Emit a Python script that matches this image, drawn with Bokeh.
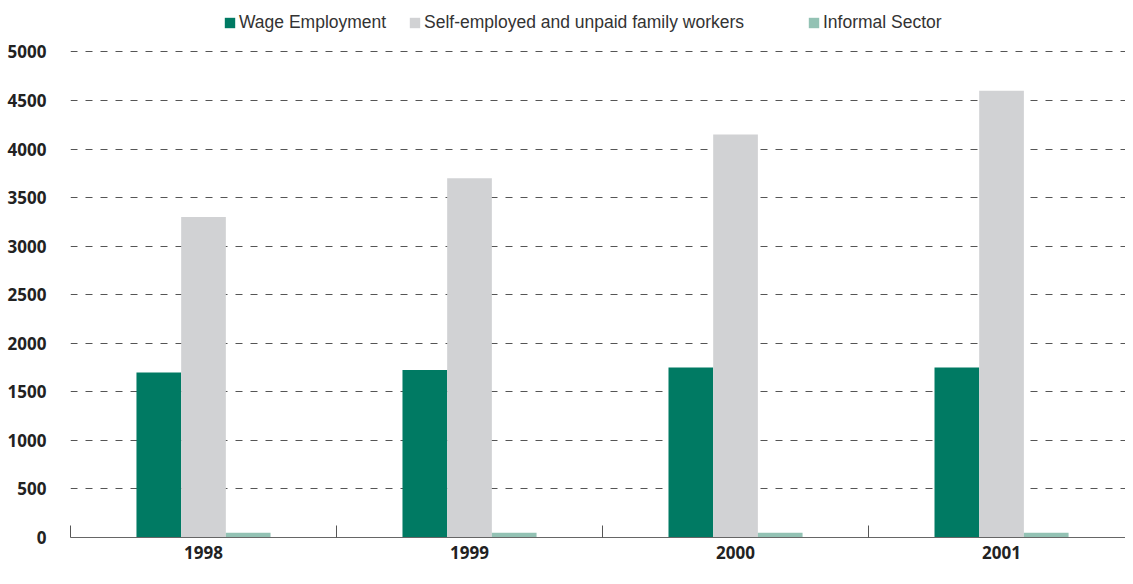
from bokeh.plotting import figure
from bokeh.models import (ColumnDataSource, Range1d, FixedTicker, Legend, LegendItem)
from bokeh.embed import file_html
from bokeh.resources import INLINE

years = ["1998", "1999", "2000", "2001"]
wage = [1700, 1725, 1750, 1750]
self_emp = [3300, 3700, 4150, 4600]
informal = [50, 50, 50, 50]

series_names = ["Wage Employment", "Self-employed and unpaid family workers", "Informal Sector"]
colors = ["#007A63", "#D1D2D4", "#93C2B4"]

centers = [i + 0.5 for i in range(len(years))]
bw = 0.168
offsets = [-bw, 0.0, bw]

p = figure(width=1125, height=568, output_backend="svg", toolbar_location=None,
           x_range=Range1d(0, 3.966), y_range=Range1d(0, 5427),
           min_border_left=70, min_border_right=0, min_border_top=10, min_border_bottom=31)
p.outline_line_color = None
p.background_fill_color = "white"
p.border_fill_color = "white"

renderers = []
for vals, off, col in zip([wage, self_emp, informal], offsets, colors):
    src = ColumnDataSource(dict(x=[c + off for c in centers], top=vals))
    r = p.vbar(x="x", top="top", width=bw, bottom=0, source=src,
               fill_color=col, line_color=None)
    renderers.append(r)

# y axis
p.yaxis.ticker = FixedTicker(ticks=list(range(0, 5001, 500)))
p.yaxis.axis_line_color = None
p.yaxis.major_tick_line_color = None
p.yaxis.minor_tick_line_color = None
p.yaxis.major_label_standoff = 18
p.yaxis.major_label_text_font = "Noto Sans"
p.yaxis.major_label_text_font_style = "bold"
p.yaxis.major_label_text_font_size = "17px"
p.yaxis.major_label_text_color = "#222222"

# x axis
p.xaxis.ticker = FixedTicker(ticks=centers, minor_ticks=list(range(0, len(years) + 1)))
p.xaxis.major_label_overrides = {c: y for c, y in zip(centers, years)}
p.xaxis.major_tick_line_color = None
p.xaxis.major_tick_in = 0
p.xaxis.major_tick_out = 0
p.xaxis.minor_tick_in = 12
p.xaxis.minor_tick_out = 0
p.xaxis.minor_tick_line_color = "#555555"
p.xaxis.axis_line_color = "#666666"
p.xaxis.major_label_standoff = 8
p.xaxis.major_label_text_font = "Noto Sans"
p.xaxis.major_label_text_font_style = "bold"
p.xaxis.major_label_text_font_size = "17px"
p.xaxis.major_label_text_color = "#222222"

p.xgrid.grid_line_color = None
p.ygrid.grid_line_color = "#555555"
p.ygrid.grid_line_dash = "7 8"
p.ygrid.grid_line_width = 1

legend_x = [153, 338, 737]
for name, r, lx in zip(series_names, renderers, legend_x):
    lg = Legend(items=[LegendItem(label=name, renderers=[r])], location=(lx, 504),
                orientation="horizontal", glyph_width=13, glyph_height=13,
                label_standoff=3, padding=1, margin=0, spacing=0,
                border_line_color=None, background_fill_alpha=0,
                label_text_font="Liberation Sans", label_text_font_size="17.5px",
                label_text_color="#333333", label_height=22)
    p.add_layout(lg)

open("out.html", "w").write(file_html(p, INLINE))
